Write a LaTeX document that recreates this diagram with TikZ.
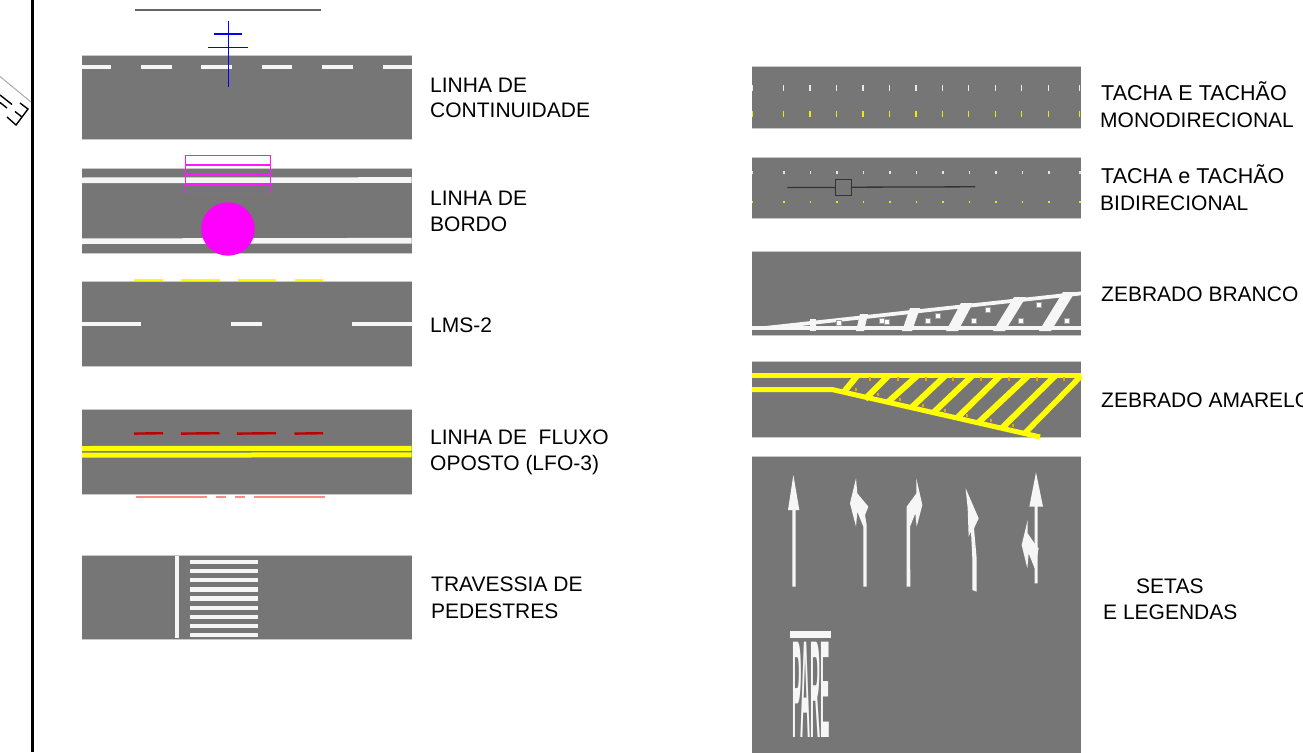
\documentclass[tikz,border=0pt]{standalone}
\usepackage{fontspec}
\setmainfont{Liberation Sans}
\definecolor{road}{HTML}{767676}
\definecolor{edge}{HTML}{C8C8C8}
\definecolor{paint}{HTML}{F6F6F6}
\definecolor{ylw}{HTML}{FFFF00}
\definecolor{mag}{HTML}{FF00FF}
\definecolor{dred}{HTML}{C00000}
\definecolor{lred}{HTML}{FF8888}
\definecolor{org}{HTML}{F2A000}
\newcommand{\roadrect}[4]{%
  \fill[road] (#1,#2) rectangle (#3,#4);
  \draw[edge,line width=.9pt] (#1,#2) -- (#3,#2) (#1,#4) -- (#3,#4);}
\tikzset{
 x=1pt,y=-1pt,
 wl/.style={draw=paint,line width=4.4pt},
 yl/.style={draw=ylw,line width=5pt},
 lab/.style={anchor=base west,inner sep=0pt,font=\fontsize{21}{25}\selectfont,text=black},
 labw/.style={lab,font=\fontsize{21.5}{25}\selectfont},
 tack/.style={draw=white!85!road,line width=1.3pt},
 tacky/.style={draw=ylw!85!road,line width=1.3pt},
 zoomed/.style={shift={(770,465)},x=.33333pt,y=-.33333pt},
}
\begin{document}
\begin{tikzpicture}
\useasboundingbox (0,0) rectangle (1303,752);
\fill[white] (0,0) rectangle (1303,752);
% left frame
\draw[black,line width=3pt] (32.5,0) -- (32.5,752);
\draw[edge!85!black,line width=1pt] (0,76.5) -- (31,102);
\draw[black,line width=1.4pt] (0,95) -- (12,104.5) (0,102.5) -- (7,108);
\draw[black,line width=1.4pt] (7,117) -- (16,125) -- (28,109) -- (20,103) (22,117) -- (15,111.5);
% title rule
\draw[black!60,line width=1.3pt] (135,10) -- (321,10);
% road 1
\roadrect{82}{55}{411.7}{139}
\foreach \a/\b in {82/110.5,140.5/171.5,201/231.5,261.5/292,322/352.5,382.5/411.7}
  \draw[wl] (\a,67) -- (\b,67);
\draw[blue,line width=1.5pt] (228.3,20.7) -- (228.3,87.3) (214.3,34) -- (241.7,34) (208.3,47.5) -- (248.3,47.5);
% road 2
\roadrect{82}{168.5}{411.7}{253}
\draw[paint,line width=5.6pt] (82,180.3) -- (411.7,180);
\draw[paint,line width=5.6pt] (82,241.2) -- (411.7,240.7);
\draw[mag!90!white,line width=1.4pt] (185.7,155.7) rectangle (270.3,193.3) (185.7,165) -- (270.3,165) (185.7,174.3) -- (270.3,174.3) (185.7,184) -- (270.3,184);
\fill[mag] (228,229) circle (26.7);
% road 3
\roadrect{82}{281.7}{411.7}{366}
\foreach \a/\b in {134/163,181/219.5,238/276,294.5/323}
  \draw[ylw,line width=2.4pt] (\a,280) -- (\b,280);
\foreach \a/\b in {82/141.3,231/262.3,352/411.7}
  \draw[wl] (\a,324) -- (\b,324);
% road 4
\roadrect{82}{409.7}{411.7}{494}
\foreach \a/\b in {134/163,181/219.5,237/276,294.5/323}
  \draw[dred,line width=2.4pt] (\a,433.6) -- (\b,433.2);
\draw[yl] (82,448.5) -- (411.7,448.3);
\draw[yl] (82,455.2) -- (411.7,454.8);
\foreach \a/\b in {136/207,216/226,235/245,254/325}
  \draw[lred,line width=2pt] (\a,497.4) -- (\b,497.4);
% road 5
\roadrect{82}{555.5}{411.7}{639.5}
\draw[wl,line width=4pt] (177.3,556) -- (177.3,638);
\foreach \y in {561.7,571,580,589.3,598.3,607.7,616.7,626,635}
  \draw[wl] (190,\y) -- (258,\y);
% tachas mono
\roadrect{752}{66.7}{1081}{128.3}
\foreach \x in {752.5,783.3,810,836.7,863,889.3,916,942.3,968.7,995.3,1021.7,1048.3,1079.3}{
  \draw[tack] (\x,85) -- (\x,90.7);
  \draw[tacky] (\x,110.7) -- (\x,116.7);
}
% tachas bi
\roadrect{752}{157.3}{1081}{218.3}
\foreach \x in {752.5,784,810.5,837,863.5,890,916.5,943,969.5,996,1022.5,1049,1080}{
  \fill[white!80!road] (\x-.8,171.3) rectangle (\x+.8,173.5);
  \fill[ylw!85!road] (\x-.8,201.2) rectangle (\x+.8,203.4);
}
\draw[black!80,line width=1.3pt] (787.3,187.4) -- (835.7,187.4) (851.7,187.2) -- (975,186.8);
\node[draw=black!80,line width=1.3pt,minimum width=16pt,minimum height=16pt,inner sep=0pt] (sq) at (843.7,187.3) {};
% zebrado branco
\roadrect{752}{251.7}{1081}{335.7}
\draw[wl,line width=3.6pt] (752,327.8) -- (1081,327.8);
\draw[wl,line width=3.8pt] (765,328) -- (1081,293.4);
\foreach \a/\b/\c/\w in {813/813/319/3,860/864/314/4,907/915/308/5,952/967/303/6,999/1020/297/6,1045/1069/292/6}
  \fill[paint] (\a-\w,331) -- (\a+\w,331) -- (\b+\w,\c) -- (\b-\w,\c) -- cycle;
\foreach \x/\y in {839/323,882/321,887/322,928/321,938/316,974/321,988/310,1021/321,1039/305,1067/321}
  \draw[fill=white,draw=road!70!white,line width=.3pt] (\x-2.4,\y-2.4) rectangle (\x+2.4,\y+2.4);
% zebrado amarelo
\roadrect{752}{361.7}{1081}{437.7}
\draw[yl] (752,375.5) -- (1081,375.5);
\draw[yl] (752,389.5) -- (832,389.5) -- (1040,437);
\draw[yl,line width=5.5pt] (1081,376) -- (1025,433);
\foreach \a/\c/\d in {857/843/393,888/865/399,917/888/402,945/911/408,972/933/413,1000/957/418,1028/978/423,1055/1002/428}
  \draw[yl,line width=6pt] (\a,376) -- (\c,\d);
\foreach \x in {870,898,926,953,981,1009,1037,1064}
  \fill[org] (\x-1.4,377) rectangle (\x+1.4,380.5);
\foreach \x/\y in {856/389.5,878/394.5,900/399.5,923/405.5,945/410.5,967/415.5,991/420.5,1013/425.5}
  \fill[org] (\x-1.4,\y-1.7) rectangle (\x+1.4,\y+1.7);
% setas e legendas
\fill[road] (752,456) rectangle (1081,760);
\draw[edge,line width=.9pt] (752,456) -- (1081,456);
\begin{scope}[zoomed]
\fill[paint] (70,30) -- (88,135) -- (77,135) -- (77,365) -- (67,365) -- (67,135) -- (54,135) -- cycle;
\fill[paint] (258,40) -- (240,115) -- (258,185) -- (262,140) -- (280,185) -- (280,365) -- (290,365) -- (290,180) -- (285,150) -- (295,125) -- (262,85) -- cycle;
\fill[paint] (439,40) -- (457,120) -- (440,185) -- (436,145) -- (420,185) -- (421,365) -- (410,365) -- (410,125) -- (439,85) -- cycle;
\fill[paint] (587,70) -- (626,160) -- (612,190) -- (620,280) -- (620,380) -- (607,375) -- (607,280) -- (603,200) -- (596,215) -- (593,130) -- cycle;
\fill[paint] (798,22) -- (819,125) -- (803,125) -- (803,355) -- (794,355) -- (794,125) -- (778,125) -- cycle;
\fill[paint] (773,165) -- (755,240) -- (772,310) -- (776,265) -- (794,310) -- (806,250) -- (797,240) -- (773,205) -- cycle;
\end{scope}
\fill[paint] (789.5,630.5) rectangle (831,638);
\node[inner sep=0pt,text=paint,font=\bfseries\fontsize{14}{14}\selectfont,xscale=1.0,yscale=9.9] (pare) at (811,689.5) {PARE};
% labels
\node[lab] (t1a) at (430,92.5) {LINHA DE};
\node[lab] (t1b) at (430,117) {CONTINUIDADE};
\node[lab] (t2a) at (430,205) {LINHA DE};
\node[lab] (t2b) at (430,231) {BORDO};
\node[lab] (t3) at (430,332) {LMS-2};
\node[lab] (t4a) at (430,444) {LINHA DE\ \ FLUXO};
\node[lab] (t4b) at (430,470) {OPOSTO (LFO-3)};
\node[lab] (t5a) at (431,591) {TRAVESSIA DE};
\node[lab] (t5b) at (431,618) {PEDESTRES};
\node[labw] (r1a) at (1101,100) {TACHA E TACHÃO};
\node[lab] (r1b) at (1100,127) {MONODIRECIONAL};
\node[labw] (r2a) at (1101,183) {TACHA e TACHÃO};
\node[lab] (r2b) at (1100,210) {BIDIRECIONAL};
\node[lab] (r3) at (1101,301) {ZEBRADO BRANCO};
\node[lab] (r4) at (1101,407) {ZEBRADO AMARELO};
\node[lab] (r5a) at (1136,593) {SETAS};
\node[lab] (r5b) at (1103,619) {E LEGENDAS};
\end{tikzpicture}
\end{document}
